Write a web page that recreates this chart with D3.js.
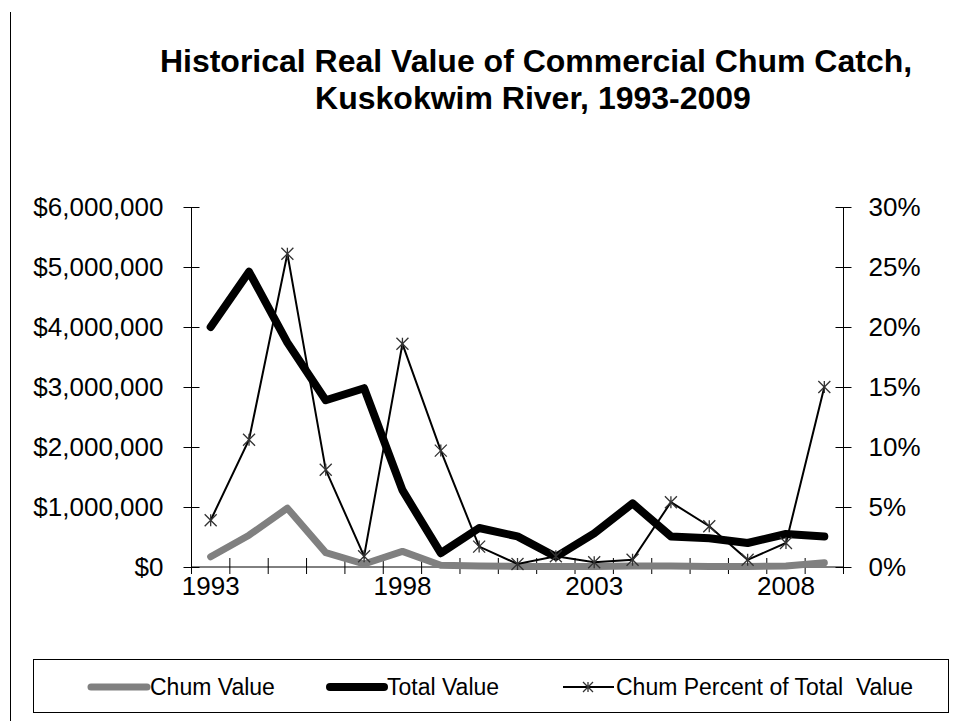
<!DOCTYPE html>
<html>
<head>
<meta charset="utf-8">
<script src="https://cdn.jsdelivr.net/npm/d3@7"></script>
<style>
  body { margin: 0; background: #fff; }
  svg { display: block; font-family: "Liberation Sans", Arial, sans-serif; }
  text { white-space: pre; }
</style>
</head>
<body>
<svg id="chart" width="969" height="721"></svg>
<script>
// data
var years = ["1993","1994","1995","1996","1997","1998","1999","2000","2001",
             "2002","2003","2004","2005","2006","2007","2008","2009"];
var chumValue = [170000, 530000, 980000, 240000, 50000, 260000, 30000, 15000, 10000,
                 10000, 10000, 15000, 15000, 10000, 10000, 15000, 70000];
var totalValue = [4000000, 4920000, 3740000, 2780000, 2980000, 1280000, 230000, 650000, 510000,
                  170000, 560000, 1060000, 510000, 480000, 400000, 550000, 510000];
var chumPct = [0.039, 0.106, 0.261, 0.081, 0.009, 0.186, 0.097, 0.017, 0.0025,
               0.009, 0.004, 0.006, 0.054, 0.034, 0.006, 0.020, 0.150];
var leftTicks = [0, 1000000, 2000000, 3000000, 4000000, 5000000, 6000000];
var rightTicks = [0, 0.05, 0.10, 0.15, 0.20, 0.25, 0.30];
var yearLabels = ["1993", "1998", "2003", "2008"];
var seriesNames = ["Chum Value", "Total Value", "Chum Percent of Total  Value"];

var svg = d3.select("#chart");

var plotL = 191.5, plotR = 843.5, plotT = 207, plotB = 567;

var x = d3.scaleBand().domain(years).range([plotL, plotR]);
var yL = d3.scaleLinear().domain([0, 6000000]).range([plotB, plotT]);
var yR = d3.scaleLinear().domain([0, 0.30]).range([plotB, plotT]);

// outer frame line on the left
svg.append("line")
  .attr("x1", 10.5).attr("x2", 10.5)
  .attr("y1", 12).attr("y2", 721)
  .attr("stroke", "#000").attr("stroke-width", 1);

// title
var title = svg.append("text")
  .attr("text-anchor", "middle")
  .attr("font-weight", "bold")
  .attr("font-size", 32);
title.append("tspan").attr("x", 536).attr("y", 72)
  .text("Historical Real Value of Commercial Chum Catch,");
title.append("tspan").attr("x", 533).attr("y", 109)
  .text("Kuskokwim River, 1993-2009");

// left axis
var gL = svg.append("g")
  .attr("transform", "translate(" + plotL + ",0)")
  .call(d3.axisLeft(yL).tickValues(leftTicks).tickSize(8).tickPadding(20)
    .tickFormat(function(d) { return "$" + d3.format(",")(d); }));
gL.selectAll(".tick line").attr("x1", 8).attr("x2", -8);

// right axis
var gR = svg.append("g")
  .attr("transform", "translate(" + plotR + ",0)")
  .call(d3.axisRight(yR).tickValues(rightTicks).tickSize(8).tickPadding(17)
    .tickFormat(d3.format(".0%")));
gR.selectAll(".tick line").attr("x1", -8).attr("x2", 8);

[gL, gR].forEach(function(g) {
  g.select(".domain").attr("d", "M0," + plotT + "V" + plotB).attr("stroke", "#000");
  g.selectAll(".tick line").attr("stroke", "#000");
  g.selectAll("text").attr("font-size", 26).attr("fill", "#000")
    .attr("font-family", "Liberation Sans, Arial, sans-serif");
});

// category axis
var gX = svg.append("g")
  .attr("transform", "translate(0," + plotB + ")")
  .call(d3.axisBottom(x).tickValues(yearLabels).tickSize(0).tickPadding(10));
gX.select(".domain").attr("d", "M" + plotL + ",0H" + plotR).attr("stroke", "#000");
gX.selectAll("text").attr("font-size", 26).attr("fill", "#000")
  .attr("font-family", "Liberation Sans, Arial, sans-serif");
gX.selectAll(".bound")
  .data(d3.range(years.length + 1))
  .enter().append("line")
  .attr("class", "bound")
  .attr("x1", function(i) { return plotL + i * x.step(); })
  .attr("x2", function(i) { return plotL + i * x.step(); })
  .attr("y1", -9).attr("y2", 7)
  .attr("stroke", "#000");

var cx = function(d, i) { return x(years[i]) + x.bandwidth() / 2; };

// chum value (gray)
svg.append("path")
  .datum(chumValue)
  .attr("fill", "none")
  .attr("stroke", "#808080")
  .attr("stroke-width", 7)
  .attr("stroke-linejoin", "round")
  .attr("stroke-linecap", "round")
  .attr("d", d3.line().x(cx).y(function(d) { return yL(d); }));

// total value (black, thick)
svg.append("path")
  .datum(totalValue)
  .attr("fill", "none")
  .attr("stroke", "#000")
  .attr("stroke-width", 8)
  .attr("stroke-linejoin", "round")
  .attr("stroke-linecap", "round")
  .attr("d", d3.line().x(cx).y(function(d) { return yL(d); }));

// chum percent (thin, star markers)
svg.append("path")
  .datum(chumPct)
  .attr("fill", "none")
  .attr("stroke", "#000")
  .attr("stroke-width", 2)
  .attr("d", d3.line().x(cx).y(function(d) { return yR(d); }));

function star(g, px, py, r) {
  g.append("path")
    .attr("d", "M" + (px - r) + "," + (py - r) + "L" + (px + r) + "," + (py + r) +
               "M" + (px - r) + "," + (py + r) + "L" + (px + r) + "," + (py - r) +
               "M" + px + "," + (py - r) + "L" + px + "," + (py + r))
    .attr("stroke", "#333").attr("stroke-width", 1.3).attr("fill", "none");
}
var gM = svg.append("g");
chumPct.forEach(function(d, i) { star(gM, cx(d, i), yR(d), 6); });

// legend
svg.append("rect")
  .attr("x", 33.5).attr("y", 659.5).attr("width", 915).attr("height", 53)
  .attr("fill", "none").attr("stroke", "#000").attr("stroke-width", 1);

var legY = 687;
var lg = svg.append("g").attr("font-size", 23);
lg.append("line").attr("x1", 91).attr("x2", 147).attr("y1", legY).attr("y2", legY)
  .attr("stroke", "#808080").attr("stroke-width", 7).attr("stroke-linecap", "round");
lg.append("text").attr("x", 150).attr("y", legY + 8).text(seriesNames[0]);
lg.append("line").attr("x1", 330).attr("x2", 384).attr("y1", legY).attr("y2", legY)
  .attr("stroke", "#000").attr("stroke-width", 8).attr("stroke-linecap", "round");
lg.append("text").attr("x", 387).attr("y", legY + 8).text(seriesNames[1]);
lg.append("line").attr("x1", 563).attr("x2", 614).attr("y1", legY).attr("y2", legY)
  .attr("stroke", "#000").attr("stroke-width", 2);
star(lg, 588, legY, 5);
lg.append("text").attr("x", 616).attr("y", legY + 8).text(seriesNames[2]);
</script>
</body>
</html>
